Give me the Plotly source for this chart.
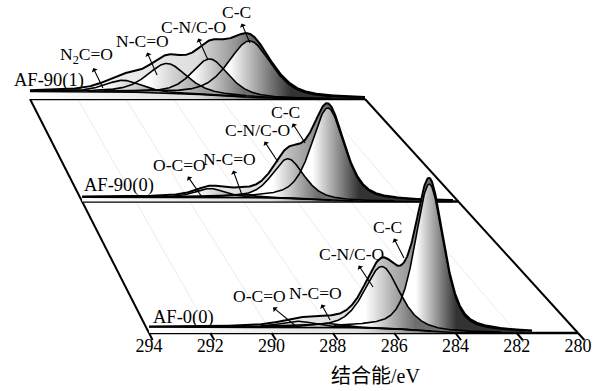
import numpy as np
import plotly.graph_objects as go

# ------------------------------------------------------------------ data
tick_vals = [294, 292, 290, 288, 286, 284, 282, 280]
tick_text = [str(v) for v in tick_vals]
x_title = "结合能/eV"

sample_names = ["AF-90(1)", "AF-90(0)", "AF-0(0)"]   # back -> front

# AF-90(1)  (back plane)
af901_names  = ["C-C", "C-N/C-O", "N-C=O", "N<sub>2</sub>C=O"]
af901_center = [284.81, 286.48, 288.27, 290.11]
af901_height = [72, 46, 38, 15]
af901_fwhm   = [2.15, 1.80, 1.96, 1.80]
af901_shirley = 9.6
af901_erange = [294.0, 280.0]

# AF-90(0)  (middle plane)
af900_names  = ["C-C", "C-N/C-O", "N-C=O", "O-C=O"]
af900_center = [284.85, 286.34, 288.12, 289.24]
af900_height = [105, 45, 4, 10]
af900_fwhm   = [1.45, 1.40, 1.20, 1.30]
af900_shirley = 5.0
af900_erange = [294.0, 280.2]

# AF-0(0)  (front plane)
af0_names  = ["C-C", "C-N/C-O", "N-C=O", "O-C=O"]
af0_center = [284.85, 286.40, 288.20, 289.15]
af0_height = [147, 62, 4, 6]
af0_fwhm   = [1.10, 1.37, 1.20, 1.30]
af0_shirley = 6.0
af0_erange = [294.0, 281.5]

GL_MIX = 0.5   # Gaussian-Lorentzian mixing of the fitted components

# ------------------------------------------------------------------ geometry (layout)
# x axis variable is u = -E so that binding energy decreases to the right
E_HI, E_LO = 294.0, 280.0
K = 429.0 / 14.0                  # px per eV on the front plane
LEFT_SHIFT = 119.0 / K            # back-plane left edge shift (eV units)
RIGHT_SHIFT = 213.0 / K           # back-plane right edge shift
RISE = 234.0                      # vertical rise of back plane (px)
DEPTHS = [1.0, 0.562, 0.0]        # back, middle, front


def scale(d):
    return (14.0 + LEFT_SHIFT * d - RIGHT_SHIFT * d) / 14.0


def proj(E, I, d):
    s = scale(d)
    Eq = (E_HI + LEFT_SHIFT * d) - (E_HI - np.asarray(E, float)) * s
    Y = RISE * d + np.asarray(I, float) * s
    return -Eq, Y


def pv(E, c, h, w):
    x = (E - c) / w
    return h * ((1 - GL_MIX) * np.exp(-4 * np.log(2) * x * x) + GL_MIX / (1 + 4 * x * x))


fig = go.Figure()
FONT = "Liberation Serif, Times New Roman, Noto Sans CJK SC, serif"


def line(xs, ys, width, color="black"):
    fig.add_trace(go.Scatter(x=xs, y=ys, mode="lines", hoverinfo="skip",
                             line=dict(color=color, width=width)))


def hgrad(left_val, right_val, stops):
    # stops listed left -> right (colorscale 0 sits at `start`)
    return dict(type="horizontal", start=float(left_val), stop=float(right_val),
                colorscale=[[p, c] for p, c in stops])


# faint perspective guide lines
for e in tick_vals[1:-1]:
    x0, y0 = proj(e, 0, 0)
    x1, y1 = proj(e, 0, 1)
    line([float(x0), float(x1)], [float(y0), float(y1)], 0.8, "#e6e6e6")

# frame side edges
for e in (E_HI, E_LO):
    xa, ya = proj(e, 0, 0)
    xb, yb = proj(e, 0, 1)
    line([float(xa), float(xb)], [float(ya), float(yb)], 2.0)

spectra = [
    (af901_names, af901_center, af901_height, af901_fwhm, af901_shirley, af901_erange),
    (af900_names, af900_center, af900_height, af900_fwhm, af900_shirley, af900_erange),
    (af0_names, af0_center, af0_height, af0_fwhm, af0_shirley, af0_erange),
]

dark = ["#333333", "#6e6e6e", "#9a9a9a", "#a8a8a8"]

for (names, cen, hgt, fw, shir, er), d in zip(spectra, DEPTHS):
    # plane line
    xa, ya = proj(np.array([E_HI, E_LO]), np.array([0, 0]), d)
    line(list(xa), list(ya), 2.5)

    E = np.linspace(er[0], er[1], 700)
    comps = [pv(E, c, h, w) for c, h, w in zip(cen, hgt, fw)]
    total = np.sum(comps, axis=0)
    # Shirley-type background (integrated from the low-energy end)
    rev = total[::-1]
    cr = np.concatenate([[0], np.cumsum((rev[1:] + rev[:-1]) / 2)])
    bg = shir * (cr / cr[-1])[::-1]
    env = bg + total

    # envelope fill down to plane
    xe, ye = proj(E, env, d)
    xb0, yb0 = proj(E[::-1], np.zeros_like(E), d)
    g0, _ = proj(E_HI, 0, d)
    g1, _ = proj(cen[0] - 0.8, 0, d)
    fig.add_trace(go.Scatter(x=np.concatenate([xe, xb0]), y=np.concatenate([ye, yb0]),
                             mode="none", fill="toself", hoverinfo="skip",
                             fillgradient=hgrad(g0, g1, [(0, "#ffffff"), (0.7, "#dedede"),
                                                         (0.86, "#959595"), (1, "#383838")])))
    # component fills (main peak first)
    masks = [comps[i] > 0.015 * hgt[i] for i in range(len(cen))]
    for i in range(len(cen)):
        m = masks[i]
        Ei = E[m]
        up_x, up_y = proj(Ei, bg[m] + comps[i][m], d)
        lo_x, lo_y = proj(Ei[::-1], bg[m][::-1], d)
        s0, _ = proj(cen[i] + 0.4 * fw[i], 0, d)
        s1, _ = proj(cen[i] - 0.8 * fw[i], 0, d)
        fig.add_trace(go.Scatter(x=np.concatenate([up_x, lo_x]), y=np.concatenate([up_y, lo_y]),
                                 mode="none", fill="toself", hoverinfo="skip",
                                 fillgradient=hgrad(s0, s1, [(0, "#ffffff"), (1, dark[i])])))
    # lines
    xb, yb = proj(E, bg, d)
    line(xb, yb, 1.6)
    for i in range(len(cen)):
        m = masks[i]
        xc, yc = proj(E[m], bg[m] + comps[i][m], d)
        line(xc, yc, 1.6)
    line(xe, ye, 2.0)

# slanted ticks on the front axis
for e in tick_vals:
    xa, ya = proj(e, 0, 0)
    xb, yb = proj(e, 0, -0.03)
    line([float(xa), float(xb)], [float(ya), float(yb)], 2.0)

# ------------------------------------------------------------------ annotations (layout)
ann_specs = [
    (1.0, [("C-C", 284.81, 71.7, -13, -31), ("C-N/C-O", 286.56, 50, -15, -33),
           ("N-C=O", 288.69, 30.7, -15, -34), ("N<sub>2</sub>C=O", 290.95, 14, -16, -33)]),
    (0.562, [("C-C", 285.70, 66.7, -20, -31), ("C-N/C-O", 286.71, 45, -21, -32),
             ("N-C=O", 288.05, 7.4, -13, -36), ("O-C=O", 289.54, 5.1, -22, -32)]),
    (0.0, [("C-C", 285.68, 75, -16, -31), ("C-N/C-O", 286.69, 46, -22, -33),
           ("N-C=O", 288.09, 13, -15, -27), ("O-C=O", 289.17, 6, -38, -31)]),
]
annotations = []
for d, items in ann_specs:
    for txt, e, i, ax, ay in items:
        x, y = proj(e, i, d)
        annotations.append(dict(x=float(x), y=float(y), ax=ax, ay=ay, text=txt,
                                showarrow=True, arrowside="start", arrowhead=2,
                                arrowsize=1.2, arrowwidth=1.1, arrowcolor="black",
                                startstandoff=0, font=dict(family=FONT, size=17.5, color="black")))

name_shift = [(-18, 19), (0, 15.5), (2, 16)]
for nm, d, (dx, dy) in zip(sample_names, DEPTHS, name_shift):
    x, y = proj(E_HI, 0, d)
    annotations.append(dict(x=float(x), y=float(y), text=nm, showarrow=False,
                            xanchor="left", yanchor="middle", xshift=dx, yshift=dy,
                            font=dict(family=FONT, size=18.5, color="black")))

# axis title centred under the front plane
tx, _ = proj(286.6, 0, 0)
annotations.append(dict(x=float(tx), y=-43, text=x_title, showarrow=False,
                        xanchor="center", yanchor="middle",
                        font=dict(family=FONT, size=20, color="black")))

x_left = -(E_HI + 149.0 / K)
x_right = -(E_HI - (611.0 - 149.0) / K)

fig.update_layout(
    width=611, height=391, margin=dict(l=0, r=0, t=0, b=0),
    paper_bgcolor="white", plot_bgcolor="white", showlegend=False,
    annotations=annotations,
    xaxis=dict(range=[x_left, x_right], anchor="free", position=58.0 / 391.0,
               tickvals=[-v for v in tick_vals], ticktext=tick_text, ticks="", showline=False,
               showgrid=False, zeroline=False, automargin=False,
               tickfont=dict(family=FONT, size=18, color="black")),
    yaxis=dict(range=[-58, 333], visible=False, showgrid=False, zeroline=False),
)

fig.write_html("out.html", config={"displayModeBar": False},
               post_script="document.body.style.margin='0';document.body.style.padding='0';")
